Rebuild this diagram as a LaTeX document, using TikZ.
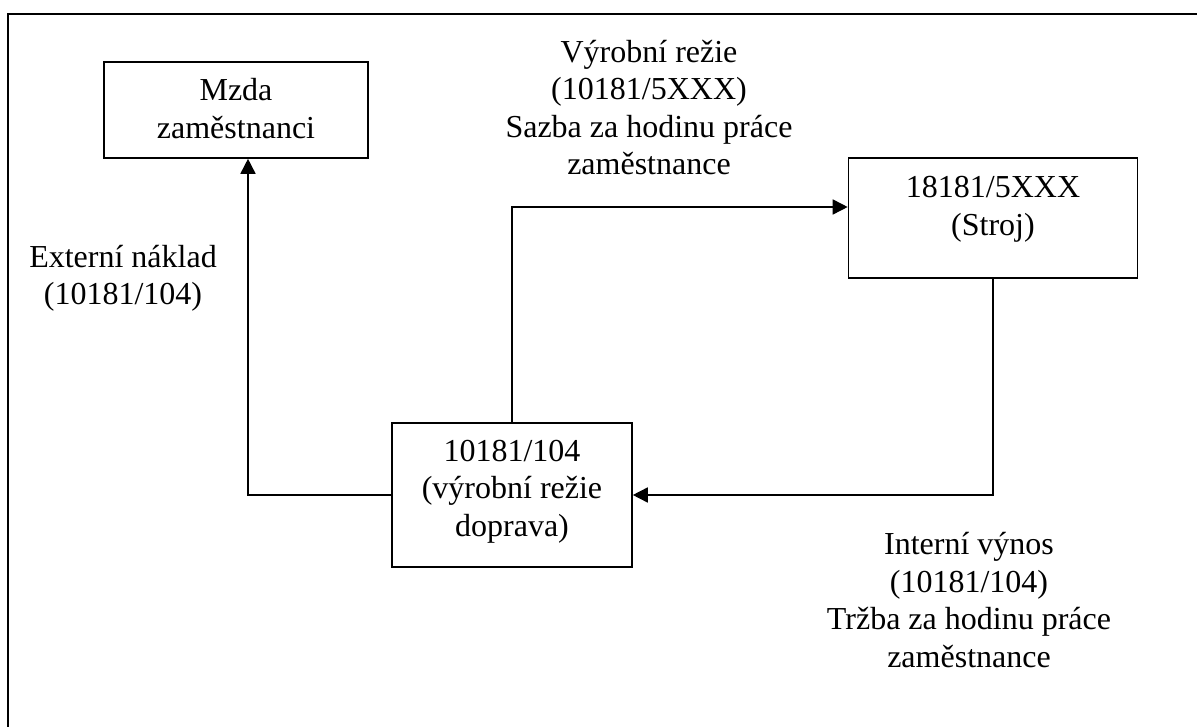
\documentclass[tikz,border=0pt]{standalone}
\usepackage{fontspec}
\setmainfont{Liberation Serif}
\usetikzlibrary{arrows.meta,calc}

\tikzset{
  line/.style={line width=1.6pt, line join=miter},
  boxnode/.style={draw, line width=1.6pt, inner sep=0pt},
  % multi-line texts are placed by the baseline of their last line
  txt/.style={font=\fontsize{32}{37.5}\selectfont, align=center, inner sep=0pt, anchor=base},
  arr/.style={line, -{Triangle[length=15pt,width=15pt]}}
}

\begin{document}
\begin{tikzpicture}[x=1pt,y=-1pt]
  \useasboundingbox (0,0) rectangle (1197,727);

  % outer frame (top and left edges)
  \draw[line] (1197,14) -- (8,14) -- (8,727);

  % boxes
  \node[boxnode, minimum width=264pt, minimum height=96pt] (mzda) at (236,110) {};
  \node[boxnode, minimum width=289pt, minimum height=120pt] (stroj) at (993,218) {};
  \node[boxnode, minimum width=240pt, minimum height=144pt] (doprava) at (512,495) {};

  % box texts
  \node[txt] (mzdaT) at ([yshift=-77pt]mzda.north) {Mzda\\zaměstnanci};
  \node[txt] (strojT) at ([yshift=-78pt]stroj.north) {18181/5XXX\\(Stroj)};
  \node[txt] (dopravaT) at ([yshift=-114pt]doprava.north) {10181/104\\(výrobní režie\\doprava)};

  % connector labels
  \node[txt] (extT) at (123,305) {Externí náklad\\(10181/104)};
  \node[txt] (vyrT) at (649,175) {Výrobní režie\\(10181/5XXX)\\Sazba za hodinu práce\\zaměstnance};
  \node[txt] (intT) at (969,667) {Interní výnos\\(10181/104)\\Tržba za hodinu práce\\zaměstnance};

  % connectors
  \draw[arr] (doprava.west) -| ([xshift=12pt]mzda.south);
  \draw[arr] (doprava.north) |- ([yshift=11pt]stroj.west);
  \draw[arr] (stroj.south) |- (doprava.east);
\end{tikzpicture}
\end{document}
